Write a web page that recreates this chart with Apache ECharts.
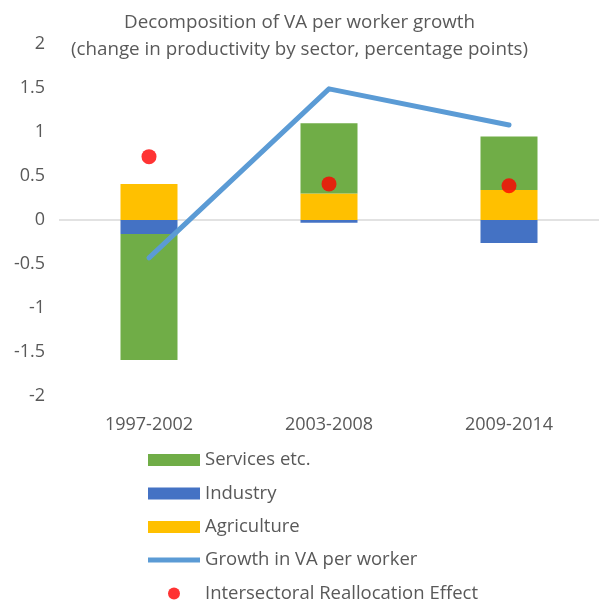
<!DOCTYPE html>
<html>
<head>
<meta charset="utf-8">
<script src="https://cdn.jsdelivr.net/npm/echarts@6/dist/echarts.min.js"></script>
<style>
  html, body { margin: 0; padding: 0; background: #fff; }
  #chart { width: 599px; height: 605px; }
</style>
</head>
<body>
<div id="chart"></div>
<script>
var categories = ['1997-2002', '2003-2008', '2009-2014'];
var agriculture = [0.41, 0.30, 0.34];
var industry = [-0.16, -0.03, -0.26];
var services = [-1.43, 0.80, 0.61];
var growth = [-0.43, 1.49, 1.08];
var reallocation = [0.72, 0.41, 0.39];

var fontFam = 'Open Sans, sans-serif';
var txtColor = '#595959';
var legendText = { fontFamily: fontFam, fontSize: 18.5, color: txtColor, lineHeight: 20 };

var myChart = echarts.init(document.getElementById('chart'));
var option = {
  animation: false,
  title: {
    text: 'Decomposition of VA per worker growth\n(change in productivity by sector, percentage points)',
    left: 'center',
    top: 4,
    textStyle: {
      fontFamily: fontFam,
      fontSize: 18.8,
      fontWeight: 'normal',
      color: txtColor,
      lineHeight: 27
    }
  },
  legend: [
    {
      orient: 'vertical',
      left: 148,
      top: 450,
      padding: 0,
      itemWidth: 52,
      itemHeight: 12,
      itemGap: 13.5,
      textStyle: legendText,
      data: [
        { name: 'Services etc.', icon: 'rect' },
        { name: 'Industry', icon: 'rect' },
        { name: 'Agriculture', icon: 'rect' }
      ]
    },
    {
      orient: 'vertical',
      left: 148,
      top: 550,
      padding: 0,
      itemWidth: 52,
      itemHeight: 12,
      itemGap: 13.5,
      textStyle: legendText,
      data: [
        { name: 'Growth in VA per worker', icon: 'path://M0,0 L110,0 L110,11 L0,11 Z' },
        { name: 'Intersectoral Reallocation Effect', icon: 'circle' }
      ]
    }
  ],
  grid: { left: 59, right: 0, top: 44, bottom: 209 },
  xAxis: {
    type: 'category',
    data: categories,
    axisLine: { show: false, onZero: false },
    axisTick: { show: false },
    axisLabel: { margin: 20, fontFamily: fontFam, fontSize: 18, color: txtColor }
  },
  yAxis: {
    type: 'value',
    min: -2,
    max: 2,
    interval: 0.5,
    splitLine: { show: false },
    axisLine: { show: false },
    axisTick: { show: false },
    axisLabel: { margin: 14, fontFamily: fontFam, fontSize: 18, color: txtColor }
  },
  series: [
    {
      name: 'Agriculture',
      type: 'bar',
      stack: 'total',
      barWidth: 57,
      data: agriculture,
      itemStyle: { color: '#FFC000' },
      markLine: {
        silent: true,
        symbol: 'none',
        label: { show: false },
        lineStyle: { color: '#D9D9D9', width: 1.5, type: 'solid' },
        data: [{ yAxis: 0 }],
        z: 1
      }
    },
    {
      name: 'Industry',
      type: 'bar',
      stack: 'total',
      barWidth: 57,
      data: industry,
      itemStyle: { color: '#4472C4' }
    },
    {
      name: 'Services etc.',
      type: 'bar',
      stack: 'total',
      barWidth: 57,
      data: services,
      itemStyle: { color: '#70AD47' }
    },
    {
      name: 'Growth in VA per worker',
      type: 'line',
      data: growth,
      symbol: 'none',
      z: 5,
      itemStyle: { color: '#5B9BD5' },
      lineStyle: { color: '#5B9BD5', width: 5, cap: 'round', join: 'round' }
    },
    {
      name: 'Intersectoral Reallocation Effect',
      type: 'scatter',
      data: reallocation,
      symbol: 'circle',
      symbolSize: 15,
      z: 6,
      itemStyle: { color: '#FF0000' }
    }
  ]
};
myChart.setOption(option);
</script>
</body>
</html>
